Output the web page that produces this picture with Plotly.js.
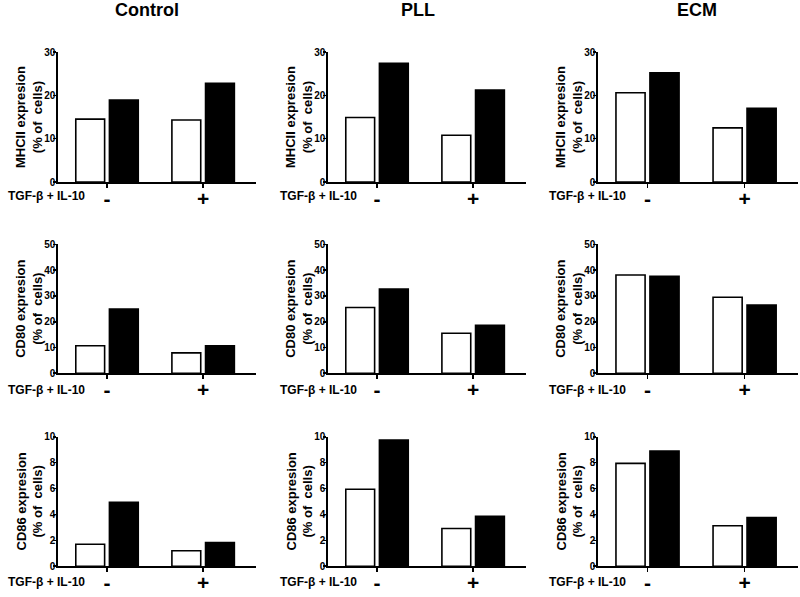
<!DOCTYPE html>
<html>
<head>
<meta charset="utf-8">
<script src="https://cdn.plot.ly/plotly-3.0.1.min.js"></script>
<style>html,body{margin:0;padding:0;background:#fff;}#chart{width:800px;height:597px;}</style>
</head>
<body>
<div id="chart"></div>
<script>
// ---- data ----
const conditions = ['Control', 'PLL', 'ECM'];
const treatment = ['-', '+'];            // TGF-β + IL-10
const markerTitles = ['MHCII expresion<br>(% of  cells)', 'CD80 expresion<br>(% of  cells)', 'CD86 expresion<br>(% of  cells)'];
const yMax = [30, 50, 10];
const yStep = [10, 10, 2];

const control_MHCII_open   = [14.5, 14.3];
const control_MHCII_filled = [18.9, 22.8];
const pll_MHCII_open       = [14.9, 10.8];
const pll_MHCII_filled     = [27.4, 21.2];
const ecm_MHCII_open       = [20.6, 12.5];
const ecm_MHCII_filled     = [25.2, 17.0];

const control_CD80_open    = [10.7, 7.9];
const control_CD80_filled  = [24.9, 10.7];
const pll_CD80_open        = [25.5, 15.5];
const pll_CD80_filled      = [32.7, 18.6];
const ecm_CD80_open        = [38.1, 29.5];
const ecm_CD80_filled      = [37.6, 26.5];

const control_CD86_open    = [1.7, 1.2];
const control_CD86_filled  = [4.93, 1.83];
const pll_CD86_open        = [5.95, 2.92];
const pll_CD86_filled      = [9.75, 3.85];
const ecm_CD86_open        = [7.94, 3.13];
const ecm_CD86_filled      = [8.9, 3.77];

const openSeries = [
  [control_MHCII_open, pll_MHCII_open, ecm_MHCII_open],
  [control_CD80_open, pll_CD80_open, ecm_CD80_open],
  [control_CD86_open, pll_CD86_open, ecm_CD86_open]
];
const filledSeries = [
  [control_MHCII_filled, pll_MHCII_filled, ecm_MHCII_filled],
  [control_CD80_filled, pll_CD80_filled, ecm_CD80_filled],
  [control_CD86_filled, pll_CD86_filled, ecm_CD86_filled]
];

// ---- layout geometry ----
const W = 800, H = 597;
const colPx = [[58, 256], [328, 526], [598, 798]];
const rowPx = [[52, 182], [244.3, 373.3], [436.7, 566.3]];
const titleX = [147, 418, 697];
const labelX = [6, 278, 547];
const labelY = [196, 390, 582];

const FONT = 'Liberation Sans, Arial, sans-serif';
const traces = [];
const layout = {
  width: W, height: H,
  margin: {l: 0, r: 0, t: 0, b: 0},
  paper_bgcolor: '#fff', plot_bgcolor: '#fff',
  showlegend: false,
  font: {family: FONT, color: '#000'},
  annotations: []
};

for (let r = 0; r < 3; r++) {
  for (let c = 0; c < 3; c++) {
    const k = r * 3 + c + 1;
    const xa = 'x' + (k === 1 ? '' : k), ya = 'y' + (k === 1 ? '' : k);
    traces.push({
      type: 'bar', x: treatment, y: openSeries[r][c], xaxis: xa, yaxis: ya,
      width: 0.3, offset: -0.325,
      marker: {color: '#ffffff', line: {color: '#000', width: 1.6}},
      hoverinfo: 'y'
    });
    traces.push({
      type: 'bar', x: treatment, y: filledSeries[r][c], xaxis: xa, yaxis: ya,
      width: 0.3, offset: 0.025,
      marker: {color: '#000000', line: {color: '#000', width: 1.6}},
      hoverinfo: 'y'
    });
    const xname = 'xaxis' + (k === 1 ? '' : k), yname = 'yaxis' + (k === 1 ? '' : k);
    layout[xname] = {
      domain: [colPx[c][0] / W, colPx[c][1] / W],
      anchor: ya, type: 'category', range: [-0.51, 1.55],
      showline: true, linecolor: '#000', linewidth: 1.6,
      ticks: 'outside', ticklen: 4, tickwidth: 1.6, tickcolor: '#000',
      ticklabelstandoff: -7,
      showgrid: false, zeroline: false, fixedrange: true,
      tickfont: {family: FONT, size: 21, color: '#000', weight: 'bold'}
    };
    layout[yname] = {
      domain: [1 - rowPx[r][1] / H, 1 - rowPx[r][0] / H],
      anchor: xa, range: [0, yMax[r]], dtick: yStep[r], tick0: 0,
      showline: true, linecolor: '#000', linewidth: 1.6,
      ticks: 'outside', ticklen: 3, tickwidth: 1.6, tickcolor: '#000',
      ticklabelstandoff: -4,
      showgrid: false, zeroline: false, fixedrange: true,
      tickfont: {family: FONT, size: 10, color: '#000', weight: 'bold'}
    };
    // y-axis title, placed close to the tick labels as in the reference
    layout.annotations.push({
      xref: 'paper', yref: 'paper',
      x: (colPx[c][0] - 29) / W, y: 1 - (rowPx[r][0] + rowPx[r][1]) / 2 / H,
      xanchor: 'center', yanchor: 'middle', showarrow: false, textangle: -90,
      text: markerTitles[r],
      font: {family: FONT, size: 13, color: '#000', weight: 'bold'}
    });
    layout.annotations.push({
      xref: 'paper', yref: 'paper', x: labelX[c] / W, y: 1 - labelY[r] / H,
      xanchor: 'left', yanchor: 'middle', showarrow: false,
      text: 'TGF-β + IL-10',
      font: {family: FONT, size: 12, color: '#000', weight: 'bold'}
    });
  }
}
for (let c = 0; c < 3; c++) {
  layout.annotations.push({
    xref: 'paper', yref: 'paper', x: titleX[c] / W, y: 1 - 10 / H,
    xanchor: 'center', yanchor: 'middle', showarrow: false,
    text: conditions[c],
    font: {family: FONT, size: 18, color: '#000', weight: 'bold'}
  });
}

Plotly.newPlot('chart', traces, layout, {displayModeBar: false, staticPlot: true});
</script>
</body>
</html>
